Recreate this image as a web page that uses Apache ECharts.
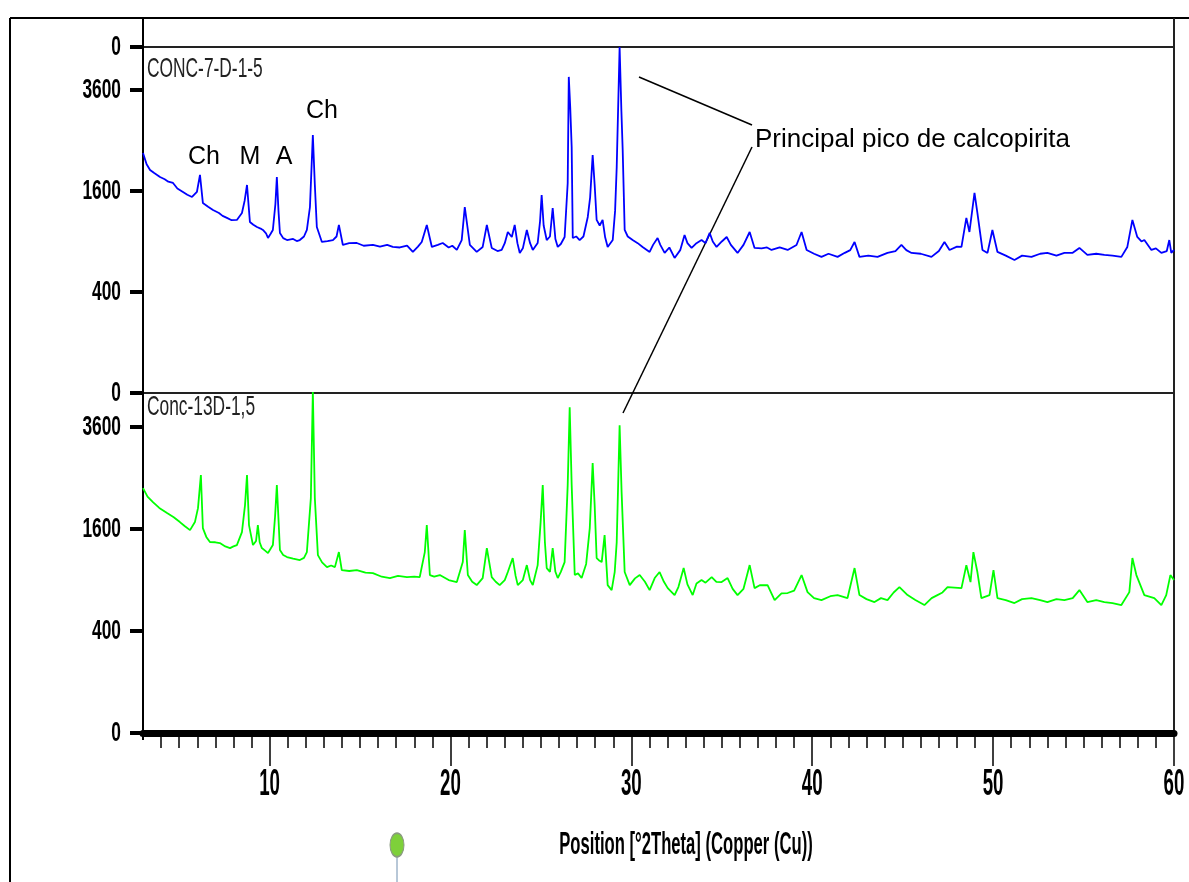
<!DOCTYPE html>
<html>
<head>
<meta charset="utf-8">
<title>XRD CONC-7-D-1-5 / Conc-13D-1,5</title>
<script src="https://cdn.jsdelivr.net/npm/echarts@6/dist/echarts.min.js"></script>
<style>
  html, body { margin: 0; padding: 0; background: #fff; }
  #chart { width: 1189px; height: 882px; }
</style>
</head>
<body>
<div id="chart"></div>
<script>
// scan CONC-7-D-1-5 (blue, upper panel)
var theta7 = [3.00, 3.20, 3.39, 3.60, 3.80, 3.94, 4.20, 4.40, 4.66, 4.90, 5.21, 5.45, 5.71, 5.98, 6.15, 6.31, 6.60, 6.87, 7.20, 7.40,
  7.64, 7.90, 8.19, 8.47, 8.62, 8.75, 8.91, 9.10, 9.30, 9.50, 9.63, 9.80, 9.91, 10.05, 10.18, 10.32, 10.40, 10.49, 10.57, 10.75,
  10.96, 11.30, 11.50, 11.67, 11.90, 12.06, 12.23, 12.39, 12.50, 12.61, 12.89, 13.20, 13.50, 13.70, 13.83, 14.05, 14.40, 14.82, 15.20, 15.71,
  16.10, 16.50, 16.81, 17.20, 17.60, 17.92, 18.20, 18.41, 18.69, 18.97, 19.30, 19.57, 19.90, 20.10, 20.35, 20.62, 20.79, 21.07, 21.45, 21.78,
  22.01, 22.28, 22.60, 22.83, 23.00, 23.17, 23.39, 23.55, 23.70, 23.83, 24.00, 24.22, 24.40, 24.55, 24.82, 24.95, 25.04, 25.15, 25.32, 25.50,
  25.65, 25.80, 25.93, 26.10, 26.31, 26.48, 26.54, 26.62, 26.70, 26.76, 26.95, 27.14, 27.35, 27.59, 27.72, 27.86, 27.97, 28.08, 28.25, 28.41,
  28.55, 28.69, 28.97, 29.10, 29.19, 29.35, 29.45, 29.52, 29.63, 29.80, 30.07, 30.35, 30.62, 31.01, 31.20, 31.45, 31.60, 31.84, 32.10, 32.39,
  32.70, 32.94, 33.10, 33.33, 33.60, 33.88, 34.10, 34.33, 34.50, 34.71, 35.00, 35.27, 35.50, 35.87, 36.20, 36.54, 36.81, 37.20, 37.50, 37.75,
  38.20, 38.64, 39.13, 39.41, 39.69, 40.10, 40.51, 40.90, 41.40, 41.80, 42.10, 42.34, 42.61, 43.10, 43.61, 44.16, 44.60, 44.93, 45.20, 45.49,
  46.00, 46.59, 47.00, 47.31, 47.59, 48.00, 48.25, 48.52, 48.69, 48.97, 49.13, 49.41, 49.69, 49.96, 50.24, 50.70, 51.18, 51.60, 52.12, 52.60,
  53.00, 53.50, 53.94, 54.40, 54.77, 55.21, 55.70, 56.15, 56.60, 57.09, 57.42, 57.70, 57.97, 58.20, 58.36, 58.75, 59.00, 59.30, 59.60, 59.74,
  59.85, 60.00];
var counts7 = [2259, 2050, 1950, 1900, 1860, 1829, 1790, 1750, 1729, 1640, 1584, 1540, 1506, 1584, 1864, 1416, 1360, 1313, 1270, 1230,
  1202, 1170, 1174, 1270, 1450, 1696, 1147, 1110, 1080, 1060, 1042, 1000, 942, 990, 1042, 1400, 1829, 1300, 1004, 940,
  917, 930, 905, 917, 960, 1042, 1356, 2610, 1700, 1080, 894, 905, 917, 960, 1107, 859, 880, 882, 850, 859,
  840, 860, 836, 830, 850, 780, 840, 894, 1107, 836, 860, 882, 830, 850, 802, 917, 1356, 859, 780, 836,
  1107, 825, 790, 802, 880, 1016, 954, 1107, 880, 769, 820, 1042, 880, 802, 882, 1150, 1537, 1100, 917, 960,
  1341, 930, 836, 870, 954, 1729, 3916, 3200, 2373, 942, 960, 917, 960, 1215, 1500, 2221, 1700, 1174, 1100, 1174,
  950, 836, 917, 1300, 2003, 4690, 3100, 2315, 1042, 960, 917, 880, 836, 780, 860, 942, 860, 769, 830, 715,
  800, 979, 880, 825, 880, 917, 880, 1004, 900, 836, 900, 954, 860, 769, 860, 1016, 825, 820, 830, 802,
  830, 802, 859, 1016, 802, 760, 726, 760, 726, 770, 800, 894, 726, 740, 726, 769, 790, 859, 800, 769,
  760, 726, 790, 894, 802, 840, 836, 1202, 1016, 1569, 1270, 802, 769, 1042, 780, 740, 694, 740, 726, 760,
  769, 740, 769, 770, 825, 747, 760, 747, 740, 726, 836, 1174, 954, 900, 917, 802, 820, 769, 790, 917,
  769, 802];

// scan Conc-13D-1,5 (green, lower panel)
var theta13 = [3.00, 3.25, 3.55, 3.90, 4.33, 4.70, 5.04, 5.30, 5.60, 5.87, 6.04, 6.20, 6.31, 6.50, 6.70, 7.00, 7.25, 7.55, 7.81, 8.00,
  8.19, 8.47, 8.64, 8.75, 8.86, 9.08, 9.25, 9.35, 9.45, 9.57, 9.75, 9.91, 10.18, 10.30, 10.40, 10.50, 10.57, 10.75, 10.96, 11.30,
  11.67, 11.90, 12.06, 12.28, 12.39, 12.50, 12.67, 12.90, 13.17, 13.40, 13.61, 13.83, 13.99, 14.40, 14.82, 15.30, 15.71, 16.20, 16.65, 17.10,
  17.59, 18.00, 18.30, 18.58, 18.69, 18.86, 19.10, 19.41, 19.90, 20.35, 20.68, 20.79, 20.96, 21.20, 21.45, 21.78, 22.01, 22.28, 22.50, 22.72,
  23.00, 23.17, 23.44, 23.60, 23.72, 24.00, 24.22, 24.40, 24.55, 24.82, 24.98, 25.10, 25.22, 25.32, 25.50, 25.65, 25.80, 25.93, 26.10, 26.31,
  26.48, 26.59, 26.70, 26.87, 27.05, 27.25, 27.50, 27.70, 27.86, 27.97, 28.08, 28.20, 28.36, 28.52, 28.69, 28.91, 29.08, 29.19, 29.35, 29.46,
  29.63, 29.91, 30.20, 30.46, 30.75, 31.01, 31.29, 31.56, 31.80, 32.01, 32.39, 32.60, 32.89, 33.10, 33.39, 33.60, 33.88, 34.10, 34.44, 34.70,
  34.99, 35.32, 35.60, 35.87, 36.20, 36.54, 36.81, 37.10, 37.53, 37.92, 38.30, 38.64, 39.00, 39.41, 39.74, 40.10, 40.51, 41.00, 41.40, 41.95,
  42.34, 42.61, 43.00, 43.44, 43.80, 44.16, 44.50, 44.82, 45.27, 45.70, 46.20, 46.60, 46.92, 47.20, 47.48, 48.25, 48.52, 48.75, 48.91, 49.13,
  49.35, 49.80, 50.02, 50.24, 50.70, 51.18, 51.60, 52.12, 52.60, 53.00, 53.50, 53.94, 54.40, 54.77, 55.21, 55.70, 56.15, 56.60, 57.09, 57.53,
  57.70, 57.92, 58.36, 58.91, 59.30, 59.57, 59.80, 60.00];
var counts13 = [2308, 2150, 2051, 1950, 1861, 1790, 1712, 1650, 1584, 1712, 1946, 2559, 1616, 1480, 1403, 1400, 1388, 1340, 1316, 1340,
  1359, 1553, 1999, 2559, 1664, 1359, 1420, 1664, 1400, 1316, 1280, 1246, 1359, 1800, 2365, 1700, 1288, 1220, 1191, 1170,
  1151, 1180, 1260, 2123, 4500, 2123, 1218, 1120, 1059, 1080, 1059, 1260, 1021, 1010, 1021, 990, 984, 940, 924, 950,
  936, 940, 936, 1260, 1664, 960, 940, 960, 900, 877, 1124, 1584, 960, 880, 842, 924, 1316, 936, 880, 842,
  900, 997, 1178, 950, 842, 900, 1085, 900, 842, 1085, 1700, 2365, 1400, 1047, 1000, 1316, 1000, 924, 1000, 1124,
  2365, 4085, 2365, 960, 980, 924, 1100, 1616, 2803, 2000, 1178, 1150, 1124, 1507, 842, 786, 1000, 1403, 3647, 2233,
  997, 842, 920, 960, 880, 786, 924, 997, 880, 808, 732, 820, 1047, 850, 732, 860, 900, 870, 936, 880,
  877, 924, 800, 732, 800, 1085, 808, 840, 842, 680, 750, 754, 780, 960, 764, 700, 680, 720, 732, 701,
  1047, 732, 690, 660, 700, 680, 760, 820, 732, 680, 630, 700, 732, 760, 820, 808, 1085, 877, 1260, 997,
  701, 732, 1021, 701, 680, 650, 690, 701, 680, 660, 690, 680, 700, 786, 660, 680, 660, 650, 630, 764,
  1178, 960, 732, 701, 630, 732, 960, 900];

// axis ticks
var yTickCounts = [0, 400, 1600, 3600];
var xLabelValues = [10, 20, 30, 40, 50, 60];
var xMinorTicks = [];
for (var t = 4; t < 60; t++) { if (t % 10 !== 0) xMinorTicks.push(t); }

// panel tops in sqrt(counts) units
var topMax7 = 68.5;
var topMax13 = 66.7;

var sans = "'Liberation Sans', Arial, sans-serif";

function pairs(xs, ys) {
  return xs.map(function (x, i) { return [x, Math.sqrt(ys[i])]; });
}

function yAxisFor(grid, max) {
  return {
    gridIndex: grid,
    type: 'value',
    min: 0,
    max: max,
    axisLine: { show: false },
    axisTick: {
      show: true, length: 13, customValues: yTickCounts.map(Math.sqrt).concat([max]),
      lineStyle: { color: '#000', width: 4 }
    },
    axisLabel: { show: false },
    splitLine: { show: false }
  };
}

// condensed look of the original program: real text squeezed horizontally
function narrowText(x, y, text, size, bold, align, sx, color) {
  return {
    type: 'text', x: x, y: y, scaleX: sx,
    style: {
      text: text, font: (bold ? 'bold ' : '') + size + 'px ' + sans,
      fill: color || '#000', align: align, verticalAlign: 'middle'
    }
  };
}

var chart = echarts.init(document.getElementById('chart'));

var option = {
  animation: false,
  backgroundColor: '#fff',
  grid: [
    { left: 143, top: 47, width: 1031, height: 346, show: true, borderColor: '#222', borderWidth: 2, outerBoundsMode: 'none' },
    { left: 143, top: 393, width: 1031, height: 340, show: true, borderColor: '#222', borderWidth: 2, outerBoundsMode: 'none' }
  ],
  xAxis: [
    { gridIndex: 0, type: 'value', min: 3, max: 60, show: false },
    {
      gridIndex: 1, type: 'value', min: 3, max: 60, position: 'bottom', offset: 3,
      axisLine: { lineStyle: { color: '#000', width: 7 } },
      axisTick: { customValues: xMinorTicks, length: 15, lineStyle: { color: '#000', width: 1.5 } },
      axisLabel: { show: false },
      splitLine: { show: false }
    },
    {
      gridIndex: 1, type: 'value', min: 3, max: 60, position: 'bottom', offset: 3,
      axisLine: { show: false },
      axisTick: { customValues: xLabelValues, length: 30, lineStyle: { color: '#000', width: 1.5 } },
      axisLabel: { show: false },
      splitLine: { show: false }
    }
  ],
  yAxis: [
    yAxisFor(0, topMax7),
    yAxisFor(1, topMax13)
  ],
  series: [
    {
      name: 'CONC-7-D-1-5', type: 'line', xAxisIndex: 0, yAxisIndex: 0,
      data: pairs(theta7, counts7), showSymbol: false, clip: true,
      lineStyle: { color: '#0000ff', width: 1.8 }
    },
    {
      name: 'Conc-13D-1,5', type: 'line', xAxisIndex: 1, yAxisIndex: 1,
      data: pairs(theta13, counts13), showSymbol: false, clip: true,
      lineStyle: { color: '#00ff00', width: 1.8 }
    }
  ]
};

chart.setOption(option);

// tick labels placed through the axes' own scales
var labels = [];
yTickCounts.forEach(function (c) {
  var p0 = chart.convertToPixel({ yAxisIndex: 0 }, Math.sqrt(c));
  labels.push(narrowText(121, p0, String(c), 28, true, 'right', 0.62));
  var p1 = chart.convertToPixel({ yAxisIndex: 1 }, Math.sqrt(c));
  if (c !== 0 || true) labels.push(narrowText(121, p1, String(c), 28, true, 'right', 0.62));
});
// top edge of the upper panel is also labelled 0 by the program
labels.push(narrowText(121, chart.convertToPixel({ yAxisIndex: 0 }, topMax7), '0', 28, true, 'right', 0.62));
var xBase = chart.convertToPixel({ yAxisIndex: 1 }, 0);
xLabelValues.forEach(function (v) {
  labels.push(narrowText(chart.convertToPixel({ xAxisIndex: 2 }, v), xBase + 52, String(v), 36, true, 'center', 0.52));
});

chart.setOption({
  graphic: [
    // outer frame and axis extensions
    { type: 'line', shape: { x1: 10, y1: 18, x2: 1189, y2: 18 }, style: { stroke: '#000', lineWidth: 2 } },
    { type: 'line', shape: { x1: 10, y1: 18, x2: 10, y2: 882 }, style: { stroke: '#000', lineWidth: 2 } },
    { type: 'line', shape: { x1: 143, y1: 18, x2: 143, y2: 740 }, style: { stroke: '#000', lineWidth: 2 } },
    { type: 'line', shape: { x1: 1174, y1: 18, x2: 1174, y2: 47 }, style: { stroke: '#222', lineWidth: 2 } },
    // panel names
    narrowText(147, 69, 'CONC-7-D-1-5', 28, false, 'left', 0.62, '#222'),
    narrowText(147, 407, 'Conc-13D-1,5', 28, false, 'left', 0.62, '#222'),
    // phase labels
    { type: 'text', x: 204, y: 157, style: { text: 'Ch', font: '25px ' + sans, fill: '#000', align: 'center', verticalAlign: 'middle' } },
    { type: 'text', x: 250, y: 157, style: { text: 'M', font: '25px ' + sans, fill: '#000', align: 'center', verticalAlign: 'middle' } },
    { type: 'text', x: 284, y: 157, style: { text: 'A', font: '25px ' + sans, fill: '#000', align: 'center', verticalAlign: 'middle' } },
    { type: 'text', x: 322, y: 111, style: { text: 'Ch', font: '25px ' + sans, fill: '#000', align: 'center', verticalAlign: 'middle' } },
    { type: 'text', x: 755, y: 140, style: { text: 'Principal pico de calcopirita', font: '26px ' + sans, fill: '#000', verticalAlign: 'middle' } },
    { type: 'line', shape: { x1: 639, y1: 77, x2: 752, y2: 125 }, style: { stroke: '#000', lineWidth: 1.5 } },
    { type: 'line', shape: { x1: 752, y1: 147, x2: 623, y2: 413 }, style: { stroke: '#000', lineWidth: 1.5 } },
    // axis title and marker
    narrowText(686, 845, 'Position [°2Theta] (Copper (Cu))', 32, true, 'center', 0.52),
    { type: 'line', shape: { x1: 397, y1: 857, x2: 397, y2: 882 }, style: { stroke: '#7090b0', lineWidth: 1 } },
    { type: 'circle', x: 397, y: 845, scaleY: 1.7, shape: { cx: 0, cy: 0, r: 7 }, style: { fill: '#7ed03a', stroke: '#8a9a80', lineWidth: 1 } }
  ].concat(labels)
});
</script>
</body>
</html>
